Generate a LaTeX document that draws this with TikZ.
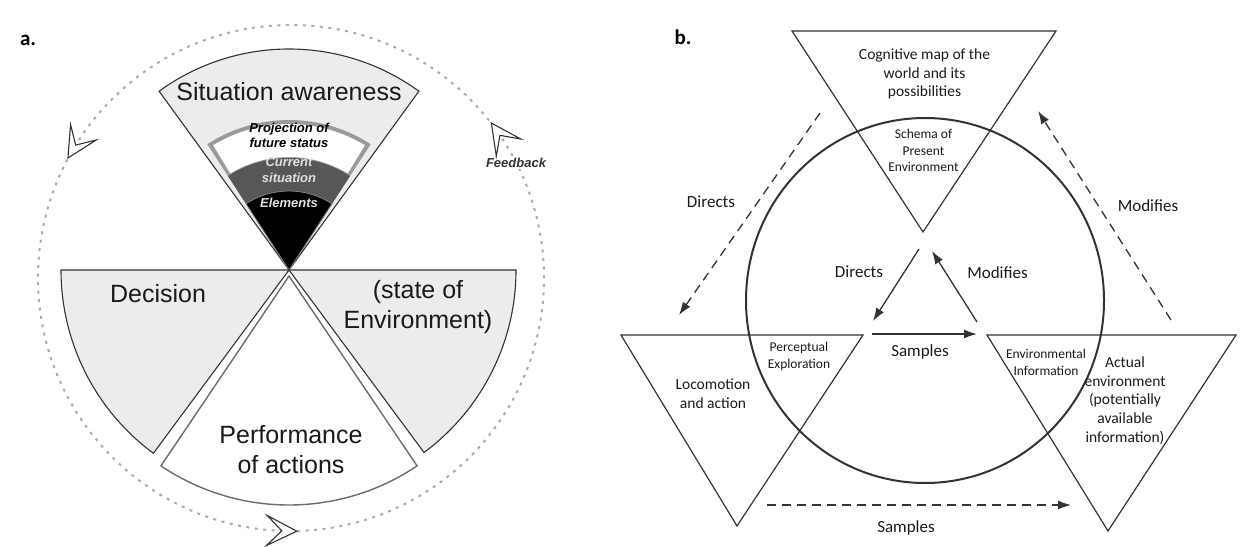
\documentclass[tikz,border=0pt]{standalone}
\usepackage{fontspec}
\setmainfont{Liberation Sans}
\newfontfamily\gill{Carlito}
\usetikzlibrary{arrows.meta,calc}
\definecolor{wedgegray}{HTML}{ECECEC}
\definecolor{edgedark}{HTML}{333333}
\definecolor{bandgray}{HTML}{9A9A9A}
\definecolor{curgray}{HTML}{575757}
\definecolor{inktext}{HTML}{1A1A1A}
\begin{document}
\begin{tikzpicture}[x=1pt,y=1pt,
  wedge/.style={fill=wedgegray, draw=edgedark, line width=1.1pt},
  bigA/.style={font=\fontsize{25}{30}\selectfont, text=inktext, align=center, inner sep=0pt},
  smallA/.style={font=\fontsize{13}{15.5}\selectfont\bfseries\itshape, align=center, inner sep=0pt},
  panel/.style={font=\gill\bfseries\fontsize{21}{24}\selectfont, inner sep=0pt},
  trilbl/.style={font=\gill\fontsize{15.5}{18.8}\selectfont, align=center, inner sep=0pt, text=inktext},
  smallb/.style={font=\gill\fontsize{13.5}{16.8}\selectfont, align=center, inner sep=0pt, text=inktext},
  arrlbl/.style={font=\gill\fontsize{17}{20}\selectfont, inner sep=0pt, text=inktext},
  tri/.style={draw=edgedark, line width=1.2pt, line join=miter},
  solidarr/.style={draw=edgedark, line width=1.3pt, -{Latex[length=13pt,width=9pt]}},
  dasharr/.style={draw=edgedark, line width=1.3pt, dash pattern=on 9pt off 6pt, -{Latex[length=13pt,width=9pt]}},
  hollowarrow/.pic={\draw[fill=white, draw=edgedark, line width=1.1pt, line join=miter]
      (12,0) -- (-18,15) -- (-3,0) -- (-18,-15) -- cycle;}
]
\path[use as bounding box] (0,0) rectangle (1246,-546);

% ================= Panel a =================
\node[panel] (la) at (28,-40) {a.};
\coordinate (A) at (289,-270);
\coordinate (A2) at (289,-276);
\coordinate (C) at (291,-278);

% dotted feedback circle
\draw[gray!65, line width=2pt, dash pattern=on 3pt off 5.5pt] (C) circle[radius=253];

% situation awareness wedge
\draw[wedge] (A) -- ++(54:221) arc[start angle=54,end angle=126,radius=221] -- cycle;
\fill[bandgray] (A) -- ++(57:150) arc[start angle=57,end angle=123,radius=150] -- cycle;
\fill[white] ($(A)+(58.7:113)$) -- ($(A)+(58.7:146)$) arc[start angle=58.7,end angle=121.3,radius=146]
   -- ($(A)+(121.3:113)$) arc[start angle=121.3,end angle=58.7,radius=113] -- cycle;
\fill[curgray] (A) -- ++(57:112) arc[start angle=57,end angle=123,radius=112] -- cycle;
\draw[fill=black, draw=gray, line width=0.8pt] (A) -- ++(57:79) arc[start angle=57,end angle=123,radius=79] -- cycle;

% other wedges
\draw[wedge] (A) -- ++(180:228) arc[start angle=180,end angle=233.5,radius=228] -- cycle;
\draw[wedge] (A) -- ++(0:227) arc[start angle=0,end angle=-53.5,radius=227] -- cycle;
\draw[fill=white, draw=gray!85!black, line width=1.4pt, line join=miter] (A2) -- ++(236:229) arc[start angle=236,end angle=304,radius=229] -- cycle;

% texts panel a
\node[bigA] (sa) at (289,-92) {Situation awareness};
\node[smallA, text=black] (proj) at (289,-135.5) {Projection of\\future status};
\node[smallA, text=white!88!black] (cur) at (289,-170) {Current\\situation};
\node[smallA, text=white!88!black] (elem) at (289,-203) {Elements};
\node[bigA] (dec) at (158,-294) {Decision};
\node[bigA] (env) at (418,-307) {(state of\\Environment)};
\node[bigA] (perf) at (291,-450) {Performance\\of actions};
\node[smallA, text=edgedark, fill=white, inner sep=1pt] (fb) at (516,-163) {Feedback};

% hollow arrows on circle
\pic[rotate=239] at ($(C)+(149:253)$) {hollowarrow};
\pic[rotate=-1.4] at ($(C)+(268.6:253)$) {hollowarrow};
\pic[rotate=125] at ($(C)+(35:253)$) {hollowarrow};

% ================= Panel b =================
\node[panel] (lb) at (683,-37) {b.};

\draw[edgedark, line width=2pt] (925,-300.5) ellipse[x radius=179, y radius=182.5];

\draw[tri] (792,-31) -- (1056,-31) -- (923,-232) -- cycle;
\draw[tri] (621,-335) -- (863,-335) -- (737,-526) -- cycle;
\draw[tri] (987,-335) -- (1236,-335) -- (1108,-531) -- cycle;

% endpoints
\coordinate (od1) at (820,-113);  \coordinate (od2) at (679,-315);
\coordinate (om1) at (1171,-320); \coordinate (om2) at (1038,-111);
\coordinate (os1) at (767,-505);  \coordinate (os2) at (1071,-505);
\coordinate (id1) at (919,-249);  \coordinate (id2) at (873,-321);
\coordinate (im1) at (977,-322);  \coordinate (im2) at (932,-251);
\coordinate (is1) at (872,-334);  \coordinate (is2) at (977,-334);

\draw[dasharr] (od1) -- (od2);
\draw[dasharr] (om1) -- (om2);
\draw[dasharr] (os1) -- (os2);
\draw[solidarr] (id1) -- (id2);
\draw[solidarr] (im1) -- (im2);
\draw[solidarr] (is1) -- (is2);

% texts panel b
\node[trilbl] (cog) at (924.5,-74) {Cognitive map of the\\world and its\\possibilities};
\node[smallb] (schema) at (923.5,-150.5) {Schema of\\Present\\Environment};
\node[smallb] (perc) at (799,-356) {Perceptual\\Exploration};
\node[trilbl] (loco) at (713,-393.5) {Locomotion\\and action};
\node[smallb] (envinfo) at (1046,-362.5) {Environmental\\Information};
\node[trilbl] (actual) at (1125,-400.5) {Actual\\environment\\(potentially\\available\\information)};
\node[arrlbl] (ldir) at (711,-202) {Directs};
\node[arrlbl] (lmod) at (1148,-206) {Modifies};
\node[arrlbl] (idir) at (859,-272) {Directs};
\node[arrlbl] (imod) at (997.5,-273) {Modifies};
\node[arrlbl] (isam) at (920,-352) {Samples};
\node[arrlbl] (bsam) at (906,-527.5) {Samples};
\end{tikzpicture}
\end{document}
